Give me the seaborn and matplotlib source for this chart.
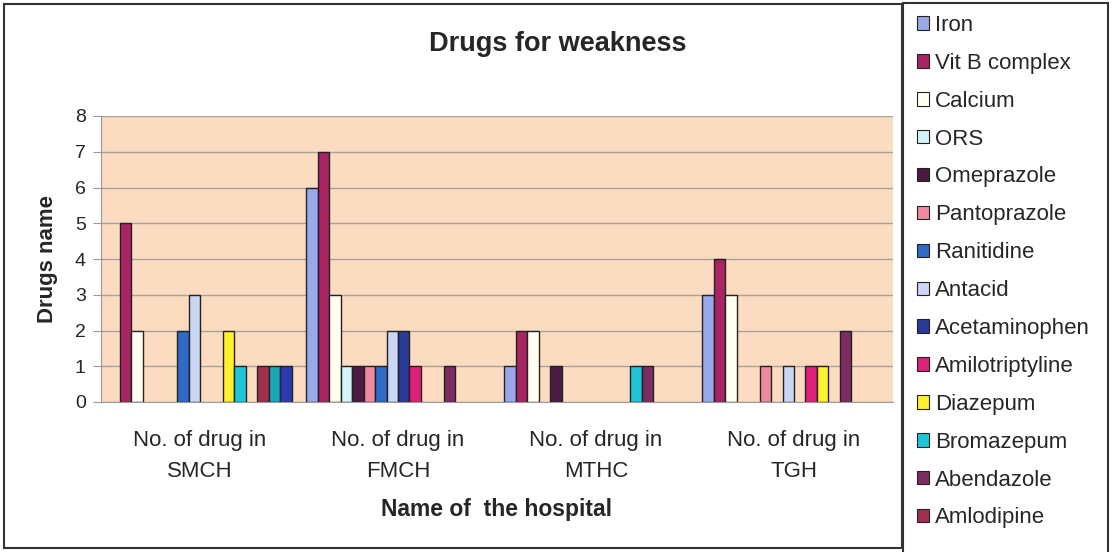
import matplotlib
matplotlib.use("Agg")
import matplotlib.pyplot as plt
import matplotlib.patches as mpatches
import seaborn as sns
import pandas as pd

# Data (one value per hospital: SMCH, FMCH, MTHC, TGH)
hospitals = ["No. of drug in\nSMCH", "No. of drug in\nFMCH",
             "No. of drug in\nMTHC", "No. of drug in\nTGH"]
drugs = ["Iron", "Vit B complex", "Calcium", "ORS", "Omeprazole",
         "Pantoprazole", "Ranitidine", "Antacid", "Acetaminophen",
         "Amilotriptyline", "Diazepum", "Bromazepum", "Abendazole",
         "Amlodipine", "Series 15", "Series 16"]
counts = {
    "Iron":            [0, 6, 1, 3],
    "Vit B complex":   [5, 7, 2, 4],
    "Calcium":         [2, 3, 2, 3],
    "ORS":             [0, 1, 0, 0],
    "Omeprazole":      [0, 1, 1, 0],
    "Pantoprazole":    [0, 1, 0, 1],
    "Ranitidine":      [2, 1, 0, 0],
    "Antacid":         [3, 2, 0, 1],
    "Acetaminophen":   [0, 2, 0, 0],
    "Amilotriptyline": [0, 1, 0, 1],
    "Diazepum":        [2, 0, 0, 1],
    "Bromazepum":      [1, 0, 1, 0],
    "Abendazole":      [0, 1, 1, 2],
    "Amlodipine":      [1, 0, 0, 0],
    "Series 15":       [1, 0, 0, 0],
    "Series 16":       [1, 0, 0, 0],
}
colors = ["#98A8E8", "#A82462", "#FFFFF2", "#D2F4F8", "#4A1A42",
          "#EE8AA2", "#2E6AC6", "#C9D6F4", "#2A3A98", "#DE2078",
          "#FFF030", "#1CC6D6", "#7C2C62", "#A03050", "#18A8B8", "#2A3AB0"]

rows = []
for d in drugs:
    for h, v in zip(hospitals, counts[d]):
        rows.append({"Hospital": h, "Drug": d, "Count": v})
df = pd.DataFrame(rows)
df = df[df["Count"] > 0]

sns.set_style("white")
plt.rcParams["font.family"] = ["Liberation Sans", "DejaVu Sans"]

W, H = 1114, 552
fig = plt.figure(figsize=(W / 100, H / 100), dpi=100)
ax = fig.add_axes([101 / W, 1 - 402 / H, 792 / W, 286 / H])
ax.set_facecolor("#FCDCC0")

sns.barplot(data=df, x="Hospital", y="Count", hue="Drug", order=hospitals,
            hue_order=drugs, palette=colors, saturation=1, errorbar=None,
            width=0.925, dodge=True, edgecolor="#222222", linewidth=1.0,
            ax=ax, legend=False)

ax.set_ylim(0, 8)
ax.set_xlim(-0.5, 3.5)
ax.set_yticks(range(0, 9))
ax.yaxis.grid(True, color="#A8A29C", linewidth=1.0)
ax.set_axisbelow(True)
for s in ["top", "right"]:
    ax.spines[s].set_visible(False)
for s in ["left", "bottom"]:
    ax.spines[s].set_color("#9A9A9A")
ax.tick_params(axis="y", labelsize=14, length=6, color="#9A9A9A", left=True, pad=5)
ax.tick_params(axis="x", labelsize=16, length=0, pad=20)
for t in ax.get_xticklabels():
    t.set_linespacing(1.62)

ax.set_ylabel("Drugs name", fontsize=16, fontweight="bold", labelpad=12)
ax.set_xlabel("Name of  the hospital", fontsize=16.5, fontweight="bold", labelpad=12)

fig.text(558 / W, 1 - 44 / H, "Drugs for weakness", fontsize=19.5,
         fontweight="bold", ha="center", va="center")

# outer chart border
fig.patches.append(mpatches.Rectangle((4 / W, 4 / H), 898 / W, 544 / H,
                                      transform=fig.transFigure, fill=False,
                                      edgecolor="#333333", linewidth=1.5))
# legend border (runs off the bottom of the picture)
fig.patches.append(mpatches.Rectangle((903 / W, -0.05), 205 / W, 1.05 - 3 / H,
                                      transform=fig.transFigure, fill=False,
                                      edgecolor="#333333", linewidth=1.5))

handles = [mpatches.Patch(facecolor=c, edgecolor="#222222", linewidth=0.8, label=d)
           for d, c in zip(drugs[:14], colors[:14])]
fig.legend(handles=handles, loc="upper left", bbox_to_anchor=(908 / W, 1 - 6 / H),
           frameon=False, fontsize=16, handlelength=0.55, handleheight=0.55,
           handletextpad=0.25, labelspacing=0.76, borderaxespad=0)

fig.savefig("out.png", dpi=100)
